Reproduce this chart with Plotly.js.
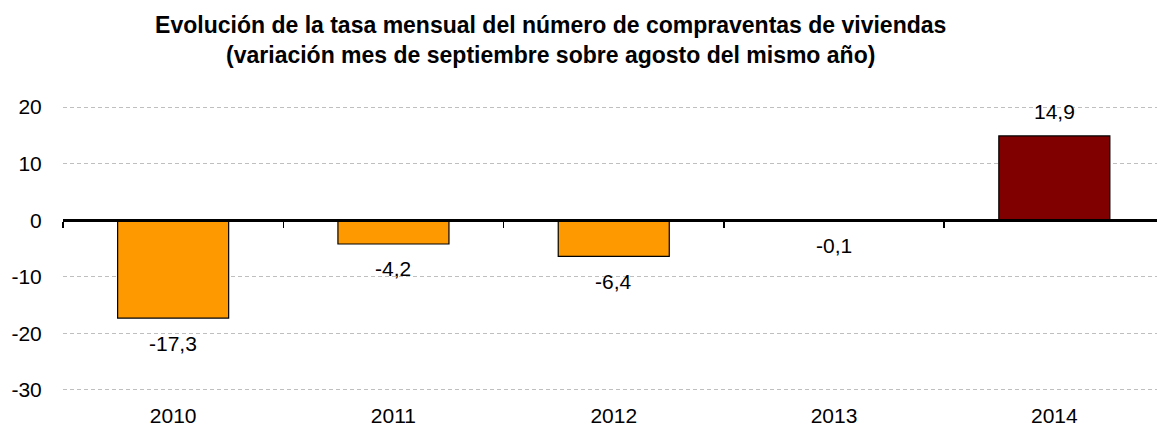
<!DOCTYPE html>
<html>
<head>
<meta charset="utf-8">
<script src="https://cdn.plot.ly/plotly-3.0.1.min.js"></script>
<style>html,body{margin:0;padding:0;background:#fff;}#chart{width:1157px;height:428px;}</style>
</head>
<body>
<div id="chart"></div>
<script>
const years = ['2010', '2011', '2012', '2013', '2014'];
const values = [-17.3, -4.2, -6.4, -0.1, 14.9];
const barColors = ['#FF9900', '#FF9900', '#FF9900', '#FF9900', '#800000'];
const yTicks = [-30, -20, -10, 0, 10, 20];

const fmt = v => v.toFixed(1).replace('.', ',');

const trace = {
  type: 'bar',
  x: years,
  y: values,
  marker: {color: barColors, line: {color: '#000000', width: 1.2}},
  hoverinfo: 'x+y'
};

const annotations = years.map((yr, i) => ({
  x: i, y: values[i], xref: 'x', yref: 'y',
  text: fmt(values[i]),
  showarrow: false,
  yshift: values[i] >= 0 ? 24 : -25,
  font: {family: 'Liberation Sans, Arial, sans-serif', size: 21, color: '#000'}
}));

// the original plot area runs slightly past the right edge of the image
const catRange = [-0.5, 4.466];

const layout = {
  width: 1157, height: 428,
  margin: {l: 63, r: 0, t: 106, b: 37},
  paper_bgcolor: '#fff', plot_bgcolor: '#fff',
  separators: ',.',
  showlegend: false,
  bargap: 0.496,
  title: {
    text: '<b>Evolución de la tasa mensual del número de compraventas de viviendas<br>(variación mes de septiembre sobre agosto del mismo año)</b>',
    x: 0.476, xref: 'container', xanchor: 'center',
    y: 0.922, yref: 'container', yanchor: 'middle',
    font: {family: 'Liberation Sans, Arial, sans-serif', size: 23, color: '#000'}
  },
  font: {family: 'Liberation Sans, Arial, sans-serif', size: 21, color: '#000'},
  xaxis: {
    type: 'category', categoryorder: 'array', categoryarray: years, range: catRange,
    showgrid: false, zeroline: false, showline: false,
    ticks: 'outside', ticklen: 6, tickcolor: 'rgba(0,0,0,0)',
    tickfont: {size: 21, color: '#000'},
    fixedrange: true
  },
  xaxis2: {
    overlaying: 'x', anchor: 'free', position: 0.6,
    type: 'category', categoryorder: 'array', categoryarray: years, range: catRange,
    showline: true, linecolor: '#000', linewidth: 2.6,
    ticks: 'outside', tickson: 'boundaries', ticklen: 6, tickwidth: 1.5, tickcolor: '#000',
    showticklabels: false, showgrid: false, zeroline: false,
    fixedrange: true
  },
  yaxis: {
    range: [-30.2, 20.2],
    tickvals: yTicks,
    ticktext: yTicks.map(String),
    showgrid: true, gridcolor: '#BFBFBF', gridwidth: 1, griddash: '4px,3px',
    zeroline: false, showline: false,
    ticks: 'outside', ticklen: 16, tickcolor: 'rgba(0,0,0,0)',
    tickfont: {size: 21, color: '#000'},
    fixedrange: true
  },
  annotations: annotations
};

const axisHelper = {type: 'bar', x: years, y: years.map(() => 0), xaxis: 'x2', yaxis: 'y', hoverinfo: 'skip', marker: {color: 'rgba(0,0,0,0)'}, showlegend: false};

Plotly.newPlot('chart', [trace, axisHelper], layout, {displayModeBar: false, staticPlot: true});
</script>
</body>
</html>
